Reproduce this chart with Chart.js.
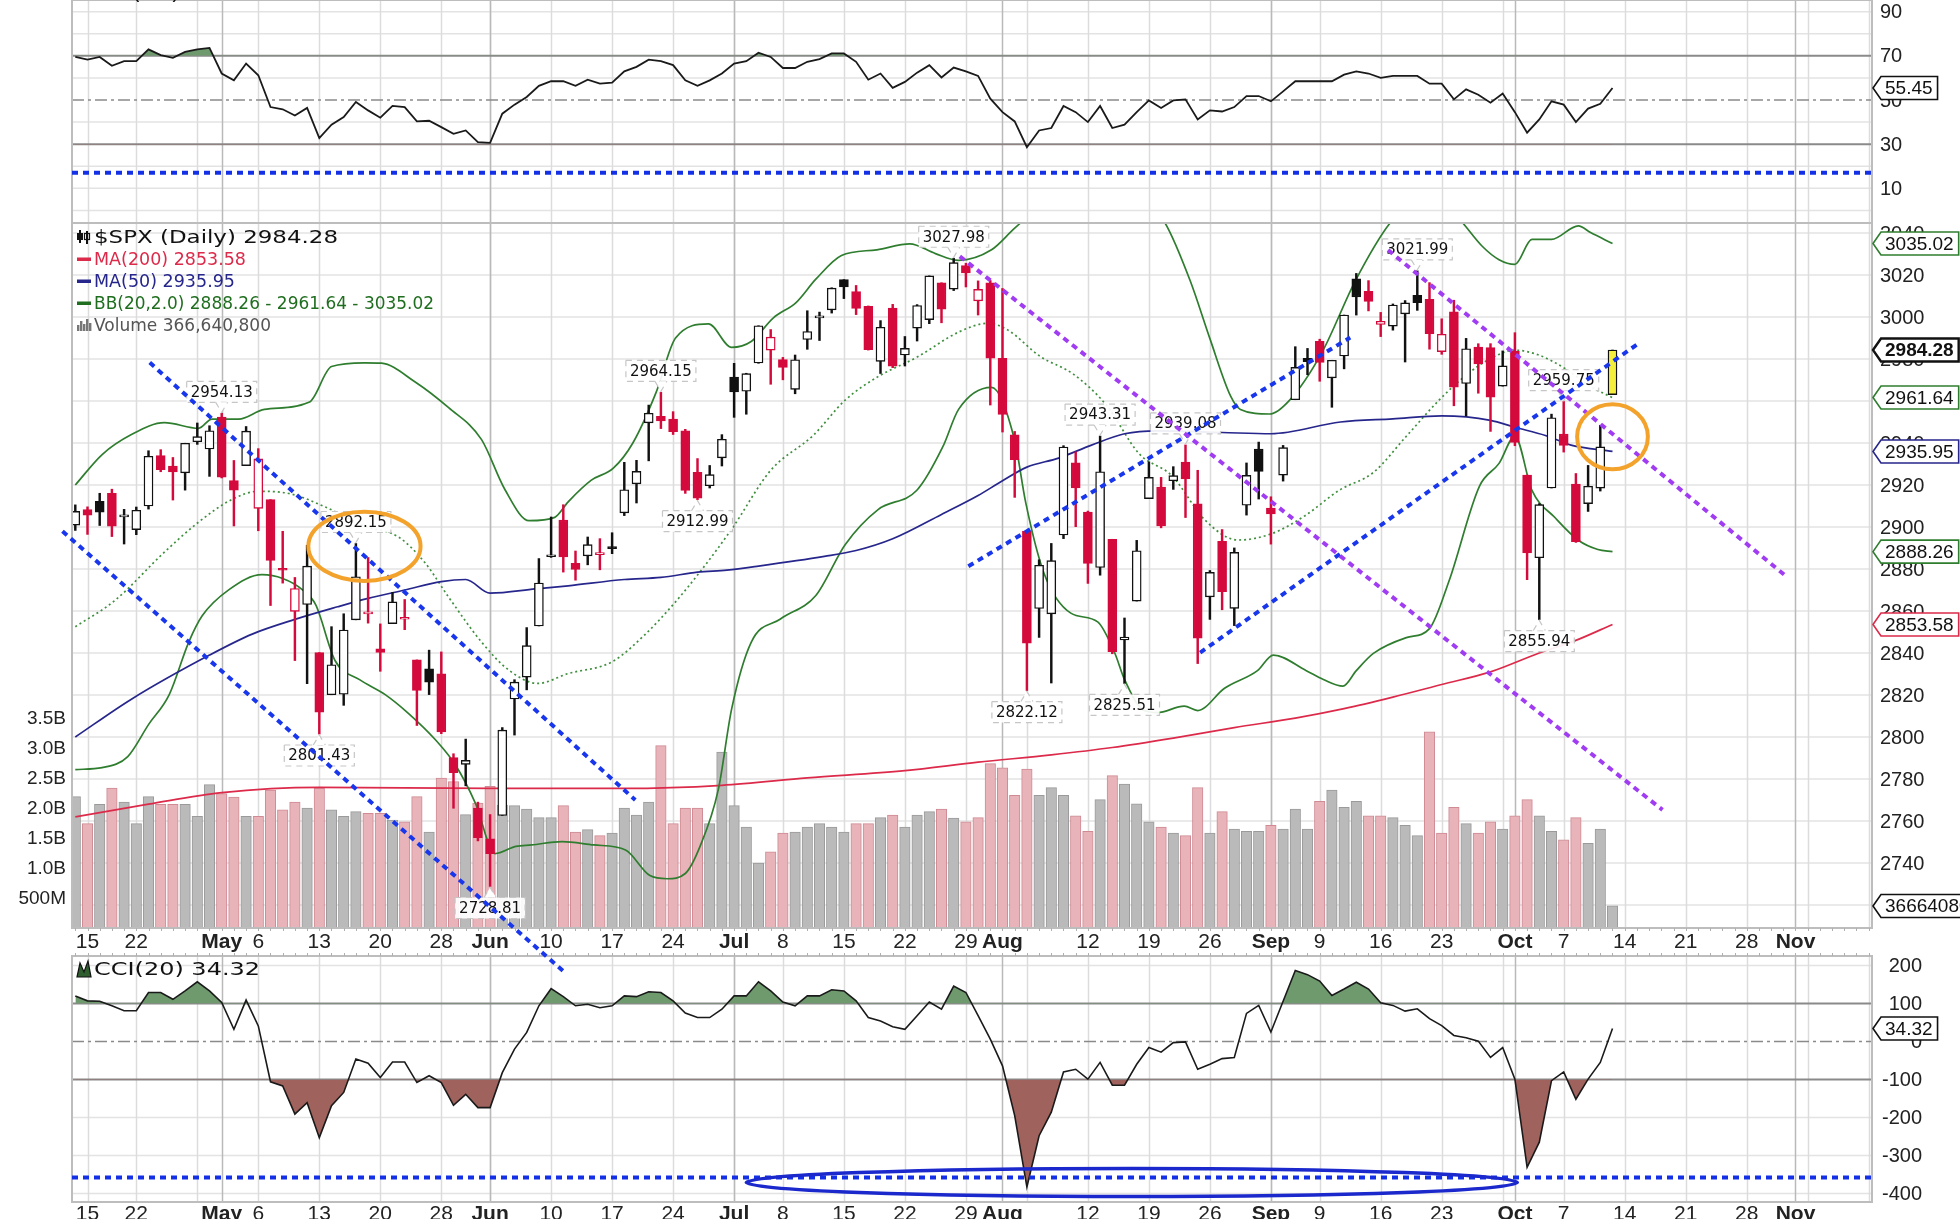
<!DOCTYPE html>
<html>
<head>
<meta charset="utf-8">
<script src="https://cdn.jsdelivr.net/npm/chart.js@4.4.1/dist/chart.umd.min.js"></script>
<style>
  html, body { margin: 0; padding: 0; background: #fff; }
  #wrap { width: 1960px; height: 1219px; overflow: hidden; }
  canvas { display: block; }
</style>
</head>
<body>
<div id="wrap"><canvas id="chart" width="1960" height="1219"></canvas></div>
<script>
// ---- daily $SPX candles, Apr 12 .. Oct 11 2019 (day index 0..126) ----
const prevClose = 2888.32;
const opens = [2900.86,2908.32,2912.26,2916.04,2904.81,2898.78,2909.99,2934.00,2928.99,2925.81,2940.58,2937.14,2952.33,2922.16,2929.21,2908.89,2913.03,2879.61,2859.84,2863.10,2840.19,2820.12,2820.38,2855.80,2858.60,2841.94,2854.02,2856.06,2836.70,2832.41,2830.03,2790.25,2786.94,2766.15,2751.53,2762.64,2818.09,2828.51,2852.87,2885.83,2903.27,2882.73,2886.24,2886.82,2889.75,2906.71,2920.55,2949.60,2952.71,2951.42,2945.78,2926.07,2919.66,2932.94,2971.41,2964.66,2978.08,2984.25,2979.77,2965.52,2989.30,2999.62,3003.36,3017.80,3012.13,3005.10,2978.87,3004.26,2981.93,2994.74,2998.77,3016.26,3013.25,3024.47,3007.66,3016.22,2980.32,2943.90,2898.07,2861.18,2858.65,2896.21,2930.51,2907.07,2880.72,2894.15,2846.20,2864.74,2913.48,2919.01,2922.04,2930.94,2911.07,2866.70,2893.14,2861.28,2910.37,2937.09,2909.01,2924.67,2960.60,2980.33,2988.43,2971.01,2981.41,3018.21,3012.21,2996.41,2995.67,3001.50,3010.36,3008.42,2983.50,3002.43,2968.35,2985.73,2985.47,2967.07,2983.69,2924.78,2885.38,2918.56,2944.23,2920.40,2911.10,2918.55,2963.07];
const highs = [2910.54,2909.60,2916.06,2918.00,2908.40,2909.51,2936.31,2936.83,2933.10,2939.88,2949.52,2948.22,2954.13,2931.68,2947.85,2937.32,2913.03,2897.96,2875.97,2891.31,2840.19,2852.54,2858.68,2892.15,2885.48,2853.86,2868.88,2865.47,2836.70,2841.36,2840.51,2792.03,2799.00,2768.98,2763.07,2804.49,2827.28,2852.10,2884.97,2904.77,2910.61,2888.57,2895.24,2894.45,2897.27,2930.79,2931.74,2958.06,2964.15,2954.92,2946.52,2932.59,2929.30,2943.98,2977.93,2973.21,2995.84,2994.03,2980.76,2981.90,3002.98,3002.33,3013.92,3017.80,3015.02,3005.26,2998.28,3006.02,2990.71,3005.90,3019.59,3016.31,3027.98,3025.61,3017.19,3017.40,3013.59,2945.50,2898.07,2884.40,2892.17,2938.72,2935.75,2907.58,2943.31,2894.15,2856.67,2893.63,2931.00,2923.63,2928.73,2939.08,2927.01,2879.27,2898.79,2890.03,2930.50,2940.43,2914.39,2938.84,2985.86,2985.03,2989.43,2979.39,3000.93,3020.74,3017.33,3002.19,3006.21,3007.83,3021.99,3016.37,2999.15,3007.98,2989.82,2987.28,2987.31,2983.85,2992.53,2924.78,2911.13,2953.74,2959.75,2925.47,2929.32,2948.46,2984.28];
const lows = [2898.37,2896.48,2900.71,2895.45,2891.90,2896.35,2908.53,2926.31,2912.84,2917.56,2939.35,2924.11,2923.36,2900.50,2929.21,2898.21,2862.60,2873.28,2836.40,2825.39,2801.43,2820.12,2815.08,2855.80,2854.23,2831.29,2854.02,2851.11,2805.49,2820.19,2801.58,2766.06,2776.74,2750.52,2728.81,2762.64,2800.92,2822.45,2852.87,2885.51,2878.53,2874.68,2881.99,2879.62,2887.30,2905.44,2911.43,2931.50,2946.87,2944.05,2916.01,2912.99,2918.57,2929.05,2952.22,2953.70,2977.96,2967.97,2970.09,2963.44,2984.62,2988.80,3001.87,3008.77,3001.15,2984.25,2973.09,2975.86,2976.65,2988.56,2996.82,2997.24,3012.59,3014.30,3000.94,2958.08,2945.23,2914.11,2822.12,2847.42,2825.71,2894.47,2900.15,2873.14,2877.05,2839.64,2825.51,2864.74,2913.48,2899.60,2917.91,2904.51,2834.97,2856.00,2860.59,2853.05,2905.67,2913.32,2891.85,2921.86,2960.60,2972.51,2969.39,2957.01,2975.31,3000.92,3002.90,2990.67,2993.73,2978.57,3003.16,2984.68,2982.23,2957.73,2952.86,2963.71,2945.53,2967.07,2938.70,2874.93,2855.94,2918.56,2935.68,2892.66,2907.41,2917.12,2963.07];
const closes = [2907.41,2905.58,2907.06,2900.45,2905.03,2907.97,2933.68,2927.25,2926.17,2939.88,2943.03,2945.83,2923.73,2917.52,2945.64,2932.47,2884.05,2879.42,2870.72,2881.40,2811.87,2834.41,2850.96,2876.32,2859.53,2840.23,2864.36,2856.27,2822.24,2826.06,2802.39,2783.02,2788.86,2752.06,2744.45,2803.27,2826.15,2843.49,2873.34,2886.73,2885.72,2879.84,2891.64,2886.98,2889.67,2917.75,2926.46,2954.18,2950.46,2945.35,2917.38,2913.78,2924.92,2941.76,2964.33,2973.01,2995.82,2990.41,2975.95,2979.63,2993.07,2999.91,3013.77,3014.30,3004.04,2984.42,2995.11,2976.61,2985.03,3005.47,3019.56,3003.67,3025.86,3020.97,3013.18,2980.38,2953.56,2932.05,2844.74,2881.77,2883.98,2938.09,2918.65,2882.70,2926.32,2840.60,2847.60,2888.68,2923.65,2900.51,2924.43,2922.95,2847.11,2878.38,2869.16,2887.94,2924.58,2926.46,2906.27,2937.78,2976.00,2978.71,2978.43,2979.39,3000.93,3009.57,3007.39,2997.96,3005.70,3006.73,3006.79,2992.07,2991.78,2966.60,2984.87,2977.62,2961.79,2976.74,2940.25,2887.61,2910.63,2952.01,2938.79,2893.06,2919.40,2938.13,2984.28];
// volume in billions of shares
const volumes = [2.19,1.74,2.06,2.33,2.10,1.74,2.19,2.06,2.06,2.06,1.86,2.39,2.24,2.18,1.86,1.86,2.30,1.97,2.10,2.00,2.33,1.97,1.86,1.94,1.91,1.91,1.80,1.77,2.19,1.60,2.50,2.44,1.89,2.08,2.36,2.05,2.04,1.98,1.84,1.84,2.04,1.60,1.64,1.54,1.58,2.00,1.88,2.10,3.04,1.74,2.00,2.00,1.74,2.93,2.04,1.68,1.08,1.27,1.58,1.60,1.68,1.74,1.68,1.60,1.74,1.74,1.84,1.88,1.68,1.88,1.94,1.98,1.83,1.77,1.84,2.74,2.67,2.21,2.65,2.21,2.34,2.21,1.87,1.61,2.14,2.54,2.40,2.07,1.77,1.68,1.58,1.54,2.34,1.58,1.94,1.65,1.61,1.61,1.71,1.65,1.98,1.65,2.11,2.30,2.01,2.11,1.87,1.87,1.84,1.71,1.54,3.27,1.58,2.01,1.74,1.58,1.77,1.65,1.87,2.14,1.87,1.61,1.47,1.84,1.41,1.65,0.37];
const rsiValues = [69.5,68.3,69.5,65.5,67.6,67.6,72.9,70.3,69.1,71.8,72.9,73.6,62,58.9,66.5,61.2,46.8,45.8,43,46.4,32.7,38.8,42.3,49.1,45.3,42,47.3,46.8,40.3,40.6,37.7,34.7,36.2,30.9,30.6,43.8,47.9,51.4,56.4,58.5,58.5,56.4,59.2,57.4,57.9,63,65,68.3,67.6,65.8,58.9,56.4,58.9,62,66.5,67.6,71.4,69.5,64.5,64.5,67.3,68.5,71.1,71.1,67.3,59.2,62,55.5,58.2,62.4,65.8,60.2,64.7,63,60.9,50.6,44.5,40.3,28.6,36.2,37.3,47.3,44.5,40,47.3,37.3,38.8,44.5,49.8,46.4,49.8,50.3,41.2,45.3,44.8,46.8,51.8,51.8,49.4,53.9,58.5,58.5,58.5,58.5,61.5,63,62,60,60.9,60.9,60.9,57.4,57.4,50.3,54.8,52.4,48.8,52.9,44.5,35.2,41.2,49.4,47.9,40,46.1,48.3,55.45];
const cciValues = [120,107,106,94,81,81,129,129,111,133,157,133,103,32,109,41,-106,-117,-191,-161,-253,-169,-134,-46,-57,-95,-54,-54,-108,-90,-108,-168,-139,-174,-174,-82,-20,24,94,139,118,94,98,89,94,120,118,131,129,107,75,63,63,85,120,120,157,133,104,94,120,120,136,133,107,63,54,39,32,68,104,85,146,129,68,6,-64,-195,-383,-248,-186,-80,-73,-99,-55,-115,-115,-60,-16,-28,-3,-1,-73,-60,-45,-42,74,95,25,106,187,176,159,121,138,156,138,102,95,80,86,60,42,16,10,1,-42,-16,-99,-331,-265,-103,-80,-152,-99,-55,34.32];

// ---- overlay lines: day index -> value ----
const ma200Days = [0,6,12,20,34,45,53,60,68,74,80,85,90,95,100,104,108,112,116,120,123,126];
const ma200Vals = [2762,2768,2773.5,2776,2775.5,2775.5,2777,2780.5,2784,2788,2791.5,2795,2799.5,2804.5,2809,2813.5,2819,2825,2831,2840,2846,2853.6];
const ma50Days = [0,4.6,11,14.5,18,21.5,24,27,30,32,34,37.7,40.4,45,48,51,53.4,56,61.4,64,67,71,74,76,78,80.6,83.3,86,88.7,94,98,103.7,108,112,116,118,120.5,122.6,126];
const ma50Vals = [2800,2818,2839,2849,2856,2862,2866,2870,2874,2875,2868.5,2870.5,2872,2875,2876,2878.5,2879.5,2881.4,2886,2888.8,2894.4,2906,2915,2922,2928.5,2932.8,2939,2944.4,2945.8,2945,2944.4,2950,2951.5,2952.9,2950.8,2947.5,2943.6,2939,2936];
const bbUpDays = [0,2.2,4.6,7.3,10.1,11.2,13.4,15.5,19.2,21,23.7,25.1,27.8,30.6,33.3,35.2,37.2,39.3,40.4,42.3,44.1,45.7,47.6,49.2,51.9,53.8,55.4,57.2,59.1,60.7,62.8,65.7,68.4,70.5,72.4,75.1,77,79,82,85,87.5,89.3,91.4,93,94.7,95.5,97.9,99.5,102.2,104.9,107.8,110,112.5,113.7,115.3,116.7,118,119.4,121,123.2,124.2,126];
const bbUpVals = [2920,2934.5,2944,2949.7,2947,2951.4,2951.4,2956,2959.5,2976.4,2978.2,2978,2969.3,2956.8,2941.6,2918,2903,2904.6,2912,2922.3,2928,2940,2964,2990,2996.7,2985.5,2988.3,2999.5,3007,3018,3029.3,3032,3034.8,3030.2,3027,3032,3042.3,3052,3060,3062,3056,3045,3017,2989.7,2962.3,2956,2953.8,2960.2,2983.3,3017,3045,3056,3053,3045,3033.8,3027.3,3025.1,3037,3037,3043.4,3040.2,3035];
const bbMidDays = [0,3.2,7.3,10.1,12.8,15,17.7,20.5,23.7,26.5,28.7,30.6,33.3,35.5,37.9,40.4,44,46.7,49.1,51.2,53.8,57,60.5,63.1,65.8,69,72.4,74.8,76.4,79.1,81.8,84.5,87.2,89.9,92.6,95.3,98.1,100.8,103.6,106.4,109.1,111.8,114,115.9,118,119.9,122.1,124.2,126];
const bbMidVals = [2852.5,2864.8,2888,2902.3,2913,2917,2915.7,2909.5,2900.5,2895.2,2882.7,2866.6,2845.2,2832,2825.5,2830.2,2835.8,2848.8,2863.7,2878.6,2899,2927,2943.7,2960.4,2971.6,2980.9,2992.8,2997,2993.9,2981.2,2972.8,2958.1,2934.9,2924.3,2903.3,2893.8,2896.9,2905.4,2917.5,2926,2943.2,2960.5,2972.3,2979.9,2984.2,2982,2975.5,2966.9,2961.6];
const bbLowDays = [0,2.2,4.3,6,7.7,9.3,10.4,12.6,15.3,17,18.6,19.7,21.3,23.3,25.4,27.3,29.5,31.2,32.8,34.4,36.1,37.4,39.9,42.5,45.1,47.1,48.5,50,51.2,52.7,53.8,55.4,57.8,60.7,63.1,65.8,69,71.1,72.4,75.1,77,77.9,79.4,81.6,83.8,85.2,86,87.5,88.7,90.9,92,94.2,96.9,98.2,100.9,102.3,103.9,105,106.4,109.1,111,112.6,115.1,116.7,118,119.4,121.3,123.2,124.8,126];
const bbLowVals = [2784.5,2785.4,2790.7,2805.9,2820.2,2845.2,2857.7,2870.2,2877.3,2875.5,2870.2,2863,2836.3,2827.3,2820.2,2811.3,2798.8,2786.3,2768.4,2744.5,2747.9,2748.6,2750.2,2748.6,2746.2,2734,2732.5,2735,2747.8,2774.8,2813.4,2845.1,2856.2,2867.4,2891.6,2908.3,2917.6,2938.1,2956,2966.5,2941.2,2911.7,2878,2859,2854.8,2840,2827.4,2813,2811.6,2814.7,2812.6,2823.2,2831.6,2839,2831.6,2827.4,2824.2,2831.6,2839.8,2847.3,2851.6,2874.3,2919.5,2930.3,2943.2,2917.4,2904.4,2893.7,2889.3,2888.3];

// ---- axes ----
const weekTicks = [1,5,10,15,20,25,30,34,39,44,49,54,58,63,68,73,78,83,88,93,98,102,107,112,117,122,127,132,137,142,147];
const monthTicks = [12,34,54,76,98,118,141];
const dateLabelDays = [1,5,12,15,20,25,30,34,39,44,49,54,58,63,68,73,76,83,88,93,98,102,107,112,118,122,127,132,137,141];
const dateLabels = ['15','22','May','6','13','20','28','Jun','10','17','24','Jul','8','15','22','29','Aug','12','19','26','Sep','9','16','23','Oct','7','14','21','28','Nov'];
const priceTicks = [2720,2740,2760,2780,2800,2820,2840,2860,2880,2900,2920,2940,2960,2980,3000,3020,3040];
const volTicks = [0.5,1.0,1.5,2.0,2.5,3.0,3.5];
const volTickLabels = ['500M','1.0B','1.5B','2.0B','2.5B','3.0B','3.5B'];
const rsiGridTicks = [0,10,20,40,60,80,90];
const rsiTickLabels = [10,30,50,70,90];
const cciGridTicks = [-400,-300,-200,200];
const cciTickLabels = [200,100,0,-100,-200,-300,-400];

// ---- chart notes ----
const noteDays = [12,23,20,34,48,51,72,78,84,86,91,110,122,120];
const noteVals = [2954.13,2892.15,2801.43,2728.81,2964.15,2912.99,3027.98,2822.12,2943.31,2825.51,2939.08,3021.99,2959.75,2855.94];
const noteAbove = [true,true,false,false,true,false,true,false,true,false,true,true,true,false];
const blueTrends = [[6.1,2978.3,45.9,2770],[-1.05,2898,40.1,2688],[73.2,2881.3,104.5,2990.2],[92.2,2840.2,128.1,2987.3]];
const purpleTrends = [[72.5,3028.9,130.1,2765.3],[107.6,3031.9,140.1,2877.2]];
const ringDays = [23.7,126];
const ringVals = [2890.8,2943];
const ringHalfDays = [4.6,2.9];
const ringHalfVals = [16.5,15.5];
const cciRing = [86.6,-371,31.6,37];
const rsiGuide = 17;
const cciGuide = -358;

// ---- layout ----
const W = 1960, H = 1219;
const PLOT_L = 72, PLOT_R = 1872;
const RSI_BOX = [0, 223], MAIN_BOX = [223, 928], CCI_BOX = [956, 1202];
const RED = '#d40a3c', GREEN = '#2f7d2f', NAVY = '#26268c', MA200C = '#dc2a4a';
const SANS = '"Liberation Sans", Arial, sans-serif';
const DEJAVU = '"DejaVu Sans", Verdana, sans-serif';

// value range a scale needs so that v1 lands on pixel p1 and v2 on p2 across the full canvas height
function spanFor(v1, p1, v2, p2) {
  const k = (v2 - v1) / (p2 - p1);
  return { min: v1 + (H - p1) * k, max: v1 - p1 * k };
}
function clipFor(box) {
  return { left: 0, right: 0, top: -box[0], bottom: -(H - box[1]) };
}

const days = closes.map((_, i) => i);
const last = closes.length - 1;
const upDay = closes.map((c, i) => c >= (i === 0 ? prevClose : closes[i - 1]));
const candleColor = days.map(i => upDay[i] ? '#111' : RED);
const candleFill = days.map(i => i === last ? '#f4ef3c' : (closes[i] >= opens[i] ? '#fff' : candleColor[i]));

const pairs = (xs, ys) => xs.map((d, i) => ({ x: d, y: ys[i] }));
const lineDs = (xs, ys, color, order, dash) => ({
  type: 'line', yAxisID: 'yPrice', data: pairs(xs, ys), borderColor: color, borderWidth: 1.7,
  borderDash: dash || [], pointRadius: 0, cubicInterpolationMode: 'monotone', fill: false,
  clip: clipFor(MAIN_BOX), order
});

const datasets = [
  { type: 'bar', yAxisID: 'yVol', data: days.map(i => ({ x: i, y: volumes[i] })),
    backgroundColor: days.map(i => upDay[i] ? '#bababa' : '#e8b3b9'),
    borderColor: days.map(i => upDay[i] ? '#9a9a9a' : '#cf8a94'),
    borderWidth: 1, barThickness: 10.5, grouped: false, borderSkipped: false, clip: clipFor(MAIN_BOX), order: 50 },
  lineDs(ma200Days, ma200Vals, MA200C, 40),
  lineDs(bbMidDays, bbMidVals, '#3f8f3f', 39, [2, 3]),
  lineDs(bbUpDays, bbUpVals, GREEN, 38),
  lineDs(bbLowDays, bbLowVals, GREEN, 37),
  lineDs(ma50Days, ma50Vals, NAVY, 36),
  { type: 'bar', yAxisID: 'yPrice', data: days.map(i => ({ x: i, y: [lows[i], highs[i]] })),
    backgroundColor: candleColor, borderWidth: 0, barThickness: 1.8, grouped: false, clip: clipFor(MAIN_BOX), order: 20 },
  { type: 'bar', yAxisID: 'yPrice', data: days.map(i => ({ x: i, y: [Math.min(opens[i], closes[i]), Math.max(opens[i], closes[i])] })),
    backgroundColor: candleFill, borderColor: candleColor, borderWidth: 1.4, borderSkipped: false,
    minBarLength: 2, barThickness: 9, grouped: false, clip: clipFor(MAIN_BOX), order: 19 },
  { type: 'line', yAxisID: 'yRsi', data: pairs(days, rsiValues), borderColor: '#1a1a1a', borderWidth: 1.8,
    pointRadius: 0, tension: 0, fill: { target: { value: 70 }, above: '#6e9a6e', below: 'rgba(0,0,0,0)' },
    clip: clipFor(RSI_BOX), order: 5 },
  { type: 'line', yAxisID: 'yRsi', data: pairs(days, rsiValues), borderWidth: 0, pointRadius: 0,
    fill: { target: { value: 30 }, above: 'rgba(0,0,0,0)', below: '#a3625e' }, clip: clipFor(RSI_BOX), order: 6 },
  { type: 'line', yAxisID: 'yCci', data: pairs(days, cciValues), borderColor: '#1a1a1a', borderWidth: 1.6,
    pointRadius: 0, tension: 0, fill: { target: { value: 100 }, above: '#6e9a6e', below: 'rgba(0,0,0,0)' },
    clip: clipFor(CCI_BOX), order: 5 },
  { type: 'line', yAxisID: 'yCci', data: pairs(days, cciValues), borderWidth: 0, pointRadius: 0,
    fill: { target: { value: -100 }, above: 'rgba(0,0,0,0)', below: '#a0625c' }, clip: clipFor(CCI_BOX), order: 6 }
];

function hline(ctx, y, color, width, dash) {
  ctx.beginPath();
  ctx.setLineDash(dash || []);
  ctx.strokeStyle = color;
  ctx.lineWidth = width;
  ctx.moveTo(PLOT_L, y);
  ctx.lineTo(PLOT_R, y);
  ctx.stroke();
}

function label(ctx, str, x, y, font, color, align, stretch) {
  ctx.save();
  ctx.font = font;
  ctx.fillStyle = color || '#111';
  ctx.textBaseline = 'middle';
  ctx.textAlign = align || 'left';
  ctx.translate(x, y);
  ctx.scale(stretch || 1, 1);
  ctx.fillText(str, 0, 0);
  ctx.restore();
}

// text squeezed or stretched to a given width
function fitLabel(ctx, str, x, y, font, color, width) {
  ctx.font = font;
  label(ctx, str, x, y, font, color, 'left', width / ctx.measureText(str).width);
}

const gridPlugin = {
  id: 'panelGrid',
  beforeDatasetsDraw(chart) {
    const { ctx } = chart;
    const { x, yPrice, yRsi, yCci } = chart.scales;
    const boxes = [RSI_BOX, MAIN_BOX, CCI_BOX];
    ctx.save();
    rsiGridTicks.forEach(v => hline(ctx, yRsi.getPixelForValue(v), '#e3e3e3', 1.5));
    priceTicks.forEach(v => hline(ctx, yPrice.getPixelForValue(v), '#e3e3e3', 1.5));
    cciGridTicks.forEach(v => hline(ctx, yCci.getPixelForValue(v), '#e3e3e3', 1.5));
    const vline = (d, color) => {
      const px = Math.round(x.getPixelForValue(d)) + 0.5;
      ctx.strokeStyle = color;
      ctx.lineWidth = 1.5;
      ctx.setLineDash([]);
      boxes.forEach(([t, b]) => { ctx.beginPath(); ctx.moveTo(px, t); ctx.lineTo(px, b); ctx.stroke(); });
    };
    weekTicks.forEach(d => vline(d, '#dcdcdc'));
    monthTicks.forEach(d => vline(d, '#b9b9b9'));
    // reference levels
    hline(ctx, yRsi.getPixelForValue(70), '#8a8a8a', 2);
    hline(ctx, yRsi.getPixelForValue(30), '#8a8a8a', 2);
    hline(ctx, yRsi.getPixelForValue(50), '#8a8a8a', 1.6, [12, 4, 3, 4]);
    hline(ctx, yCci.getPixelForValue(100), '#8a8a8a', 2);
    hline(ctx, yCci.getPixelForValue(-100), '#8a8a8a', 2);
    hline(ctx, yCci.getPixelForValue(0), '#8a8a8a', 1.6, [12, 4, 3, 4]);
    ctx.restore();
  }
};

function drawNote(ctx, px, py, text, above) {
  ctx.save();
  ctx.font = '15px ' + DEJAVU;
  const w = ctx.measureText(text).width + 8, h = 21, gap = 11;
  const top = above ? py - gap - h : py + gap;
  ctx.fillStyle = 'rgba(255,255,255,0.92)';
  ctx.strokeStyle = '#c6c6c6';
  ctx.lineWidth = 1.2;
  ctx.fillRect(px - w / 2, top, w, h);
  ctx.strokeRect(px - w / 2, top, w, h);
  ctx.beginPath();
  const edge = above ? top + h : top;
  ctx.moveTo(px - 6, edge);
  ctx.lineTo(px, above ? py - 1 : py + 1);
  ctx.lineTo(px + 6, edge);
  ctx.fillStyle = '#fff';
  ctx.fill();
  ctx.stroke();
  ctx.fillStyle = '#111';
  ctx.textAlign = 'center';
  ctx.textBaseline = 'middle';
  ctx.fillText(text, px, top + h / 2 + 1);
  ctx.restore();
}

function drawTag(ctx, y, text, color, bold) {
  const x0 = PLOT_R + 1, h = 23;
  ctx.save();
  ctx.font = (bold ? 'bold ' : '') + '19px ' + SANS;
  const w = ctx.measureText(text).width + 9;
  ctx.beginPath();
  ctx.moveTo(x0, y);
  ctx.lineTo(x0 + 8, y - h / 2);
  ctx.lineTo(x0 + 8 + w, y - h / 2);
  ctx.lineTo(x0 + 8 + w, y + h / 2);
  ctx.lineTo(x0 + 8, y + h / 2);
  ctx.closePath();
  ctx.fillStyle = '#fff';
  ctx.fill();
  ctx.lineWidth = bold ? 2.4 : 1.6;
  ctx.strokeStyle = color;
  ctx.stroke();
  ctx.fillStyle = '#111';
  ctx.textBaseline = 'middle';
  ctx.fillText(text, x0 + 12, y + 1);
  ctx.restore();
}

const overlayPlugin = {
  id: 'overlay',
  afterDatasetsDraw(chart) {
    const { ctx } = chart;
    const { x, yPrice, yVol, yRsi, yCci } = chart.scales;
    ctx.save();

    // panel frames and day ticks
    ctx.strokeStyle = '#bdbdbd';
    ctx.lineWidth = 2;
    ctx.setLineDash([]);
    [RSI_BOX, MAIN_BOX, CCI_BOX].forEach(([t, b]) => ctx.strokeRect(PLOT_L, t, PLOT_R - PLOT_L, b - t));
    ctx.lineWidth = 1;
    ctx.strokeStyle = '#b0b0b0';
    for (let d = 0; d <= 147; d++) {
      const px = Math.round(x.getPixelForValue(d)) + 0.5;
      ctx.beginPath(); ctx.moveTo(px, MAIN_BOX[1]); ctx.lineTo(px, MAIN_BOX[1] + 3); ctx.stroke();
      ctx.beginPath(); ctx.moveTo(px, CCI_BOX[0] - 3); ctx.lineTo(px, CCI_BOX[0]); ctx.stroke();
    }

    // blue guide levels
    hline(ctx, yRsi.getPixelForValue(rsiGuide), '#1430e6', 4, [6, 5]);
    hline(ctx, yCci.getPixelForValue(cciGuide), '#1430e6', 4, [6, 5]);

    // high / low notes
    noteDays.forEach((d, i) => {
      drawNote(ctx, x.getPixelForValue(d), yPrice.getPixelForValue(noteVals[i]), noteVals[i].toFixed(2), noteAbove[i]);
    });

    // trend lines
    const trend = (t, color) => {
      ctx.beginPath();
      ctx.setLineDash([6, 5]);
      ctx.strokeStyle = color;
      ctx.lineWidth = 4;
      ctx.moveTo(x.getPixelForValue(t[0]), yPrice.getPixelForValue(t[1]));
      ctx.lineTo(x.getPixelForValue(t[2]), yPrice.getPixelForValue(t[3]));
      ctx.stroke();
    };
    blueTrends.forEach(t => trend(t, '#1836ec'));
    purpleTrends.forEach(t => trend(t, '#a03cf2'));
    ctx.setLineDash([]);

    // circled areas
    ringDays.forEach((d, i) => {
      const cx = x.getPixelForValue(d), cy = yPrice.getPixelForValue(ringVals[i]);
      const rx = x.getPixelForValue(d + ringHalfDays[i]) - cx;
      const ry = cy - yPrice.getPixelForValue(ringVals[i] + ringHalfVals[i]);
      ctx.beginPath();
      ctx.ellipse(cx, cy, rx, ry, 0, 0, Math.PI * 2);
      ctx.strokeStyle = '#f3a22c';
      ctx.lineWidth = 4;
      ctx.stroke();
    });
    {
      const cx = x.getPixelForValue(cciRing[0]), cy = yCci.getPixelForValue(cciRing[1]);
      const rx = x.getPixelForValue(cciRing[0] + cciRing[2]) - cx;
      const ry = cy - yCci.getPixelForValue(cciRing[1] + cciRing[3]);
      ctx.beginPath();
      ctx.ellipse(cx, cy, rx, ry, 0, 0, Math.PI * 2);
      ctx.strokeStyle = '#1a28cc';
      ctx.lineWidth = 3.5;
      ctx.stroke();
    }

    // date labels under the price panel and under the CCI panel
    dateLabelDays.forEach((d, i) => {
      const bold = monthTicks.includes(d);
      const font = (bold ? 'bold ' : '') + '21px ' + SANS;
      const px = x.getPixelForValue(d);
      label(ctx, dateLabels[i], px, 942, font, '#222', 'center');
      label(ctx, dateLabels[i], px, 1214, font, '#222', 'center');
    });

    // right axes
    priceTicks.forEach(v => { if (v >= 2740) label(ctx, String(v), 1880, yPrice.getPixelForValue(v) + 1, '20px ' + SANS, '#222'); });
    rsiTickLabels.forEach(v => label(ctx, String(v), 1880, yRsi.getPixelForValue(v) + 1, '20px ' + SANS, '#222'));
    cciTickLabels.forEach(v => label(ctx, String(v), 1922, yCci.getPixelForValue(v) + 1, '20px ' + SANS, '#222', 'right'));
    // volume axis on the left
    volTicks.forEach((v, i) => label(ctx, volTickLabels[i], 66, yVol.getPixelForValue(v) + 1, '19px ' + SANS, '#222', 'right'));

    // value tags
    drawTag(ctx, yRsi.getPixelForValue(55.45), '55.45', '#111', false);
    drawTag(ctx, yCci.getPixelForValue(34.32), '34.32', '#111', false);
    drawTag(ctx, yPrice.getPixelForValue(3035.02), '3035.02', GREEN, false);
    drawTag(ctx, yPrice.getPixelForValue(2961.64), '2961.64', GREEN, false);
    drawTag(ctx, yPrice.getPixelForValue(2935.95), '2935.95', NAVY, false);
    drawTag(ctx, yPrice.getPixelForValue(2888.26), '2888.26', GREEN, false);
    drawTag(ctx, yPrice.getPixelForValue(2853.58), '2853.58', MA200C, false);
    drawTag(ctx, yVol.getPixelForValue(0.3666), '366640800', '#111', false);
    drawTag(ctx, yPrice.getPixelForValue(2984.28), '2984.28', '#111', true);

    // legend block
    const rows = [
      ['$SPX (Daily) 2984.28', '#111', 244],
      ['MA(200) 2853.58', MA200C, 152],
      ['MA(50) 2935.95', NAVY, 141],
      ['BB(20,2.0) 2888.26 - 2961.64 - 3035.02', '#1f6e1f', 340],
      ['Volume 366,640,800', '#555', 177]
    ];
    rows.forEach(([txt, color, width], i) => {
      const y = 237 + i * 22;
      if (i === 0) {
        ctx.fillStyle = '#111';
        ctx.fillRect(79, y - 7, 2, 13); ctx.fillRect(77, y - 4, 6, 7);
        ctx.fillRect(86, y - 6, 2, 13); ctx.strokeStyle = '#111'; ctx.lineWidth = 1.2; ctx.strokeRect(84.5, y - 3.5, 5, 6);
      } else if (i === 4) {
        ctx.fillStyle = '#777';
        [[77, 6], [80, 10], [83, 7], [86, 12], [89, 8]].forEach(([bx, bh]) => ctx.fillRect(bx, y + 6 - bh, 2.4, bh));
      } else {
        ctx.fillStyle = color;
        ctx.fillRect(77, y - 1.5, 14, 3.5);
      }
      fitLabel(ctx, txt, 94, y + 1, '18px ' + DEJAVU, color, width);
    });

    // indicator titles
    ctx.fillStyle = '#2e5e2e';
    ctx.beginPath(); ctx.moveTo(77, 977); ctx.lineTo(80, 963); ctx.lineTo(84, 972); ctx.lineTo(88, 961); ctx.lineTo(91, 977); ctx.closePath(); ctx.fill();
    ctx.strokeStyle = '#111'; ctx.lineWidth = 1.2; ctx.stroke();
    fitLabel(ctx, 'CCI(20) 34.32', 94, 970, '18px ' + DEJAVU, '#111', 166);
    fitLabel(ctx, 'RSI(14) 55.45', 94, -5, '18px ' + DEJAVU, '#111', 160);

    ctx.restore();
  }
};

const yAxis = span => ({ type: 'linear', axis: 'y', position: 'right', display: false, beginAtZero: false, ...span });

new Chart(document.getElementById('chart'), {
  type: 'line',
  data: { datasets },
  options: {
    responsive: false,
    animation: false,
    devicePixelRatio: 1,
    events: [],
    layout: { padding: { left: PLOT_L, right: W - PLOT_R, top: 0, bottom: 0 } },
    plugins: { legend: { display: false }, tooltip: { enabled: false } },
    scales: {
      x: { type: 'linear', axis: 'x', position: 'bottom', display: false, offset: false, grid: { offset: false },
           min: (PLOT_L - 75.3) / 12.2, max: (PLOT_R - 75.3) / 12.2 },
      yPrice: yAxis(spanFor(3020, 275, 2740, 863)),
      yVol: yAxis(spanFor(0, 928, 3.5, 718)),
      yRsi: yAxis(spanFor(90, 11.7, 10, 188.3)),
      yCci: yAxis(spanFor(100, 1003.5, -100, 1079.5))
    }
  },
  plugins: [gridPlugin, overlayPlugin]
});
</script>
</body>
</html>
